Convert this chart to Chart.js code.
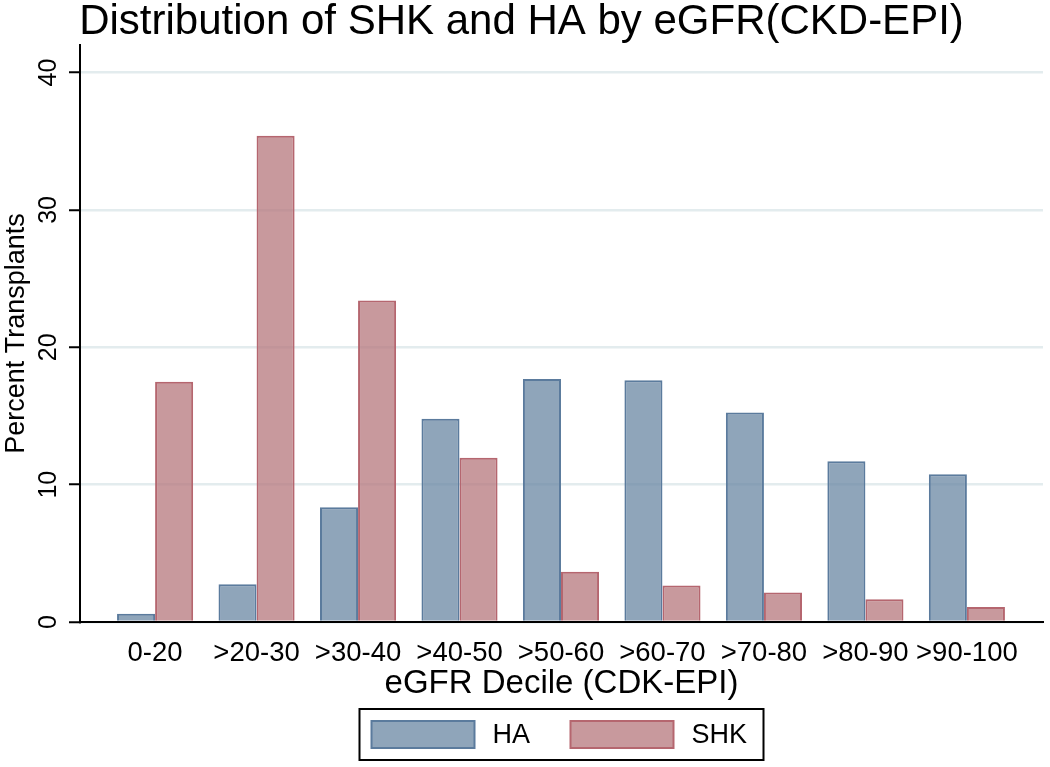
<!DOCTYPE html>
<html>
<head>
<meta charset="utf-8">
<title>Distribution of SHK and HA by eGFR(CKD-EPI)</title>
<script src="https://cdn.jsdelivr.net/npm/chart.js@4.4.1/dist/chart.umd.min.js"></script>
<style>
  html, body { margin: 0; padding: 0; background: #fff; }
  #wrap { width: 1050px; height: 767px; }
</style>
</head>
<body>
<div id="wrap"><canvas id="chart" width="1050" height="767"></canvas></div>
<script>
// ---- data ----
const CHART_TITLE = "Distribution of SHK and HA by eGFR(CKD-EPI)";
const X_TITLE = "eGFR Decile (CDK-EPI)";
const Y_TITLE = "Percent Transplants";
const CATEGORIES = ["0-20", ">20-30", ">30-40", ">40-50", ">50-60", ">60-70", ">70-80", ">80-90", ">90-100"];
const HA_VALUES  = [0.6, 2.75, 8.35, 14.8, 17.7, 17.6, 15.25, 11.7, 10.75];
const SHK_VALUES = [17.5, 35.4, 23.4, 11.95, 3.65, 2.65, 2.15, 1.65, 1.1];
const Y_TICKS = [0, 10, 20, 30, 40];

const FONT = '"Liberation Sans", Arial, Helvetica, sans-serif';

// y tick labels are rotated (read bottom to top)
const rotatedYTicks = {
  id: "rotatedYTicks",
  afterDraw(chart) {
    const { ctx, chartArea, scales: { y } } = chart;
    ctx.save();
    ctx.font = "25px " + FONT;
    ctx.fillStyle = "#000";
    ctx.textAlign = "center";
    ctx.textBaseline = "middle";
    y.ticks.forEach(t => {
      ctx.save();
      ctx.translate(chartArea.left - 31, y.getPixelForValue(t.value));
      ctx.rotate(-Math.PI / 2);
      ctx.fillText(String(t.value), 0, 0);
      ctx.restore();
    });
    ctx.restore();
  }
};

// boxed legend centred under the plot region
const boxedLegend = {
  id: "boxedLegend",
  afterDraw(chart) {
    const { ctx, chartArea } = chart;
    const cx = (chartArea.left + chartArea.right) / 2;
    const boxW = 404, boxH = 51;
    const left = cx - boxW / 2, top = chartArea.bottom + 87;
    ctx.save();
    ctx.strokeStyle = "#000";
    ctx.lineWidth = 2;
    ctx.strokeRect(left, top, boxW, boxH);
    ctx.font = "27px " + FONT;
    ctx.textBaseline = "middle";
    const offs = [12, 211];
    chart.data.datasets.forEach((ds, i) => {
      const sx = left + offs[i], sy = top + 12;
      ctx.fillStyle = "#fff";
      ctx.fillRect(sx, sy, 103, 27);
      ctx.fillStyle = ds.backgroundColor;
      ctx.fillRect(sx, sy, 103, 27);
      ctx.strokeStyle = ds.borderColor;
      ctx.lineWidth = 2;
      ctx.strokeRect(sx, sy, 103, 27);
      ctx.fillStyle = "#000";
      ctx.fillText(ds.label, sx + 121, top + boxH / 2 + 1);
    });
    ctx.restore();
  }
};

new Chart(document.getElementById("chart").getContext("2d"), {
  type: "bar",
  data: {
    datasets: [
      {
        label: "HA",
        data: HA_VALUES.map((v, i) => ({ x: i, y: v })),
        backgroundColor: "rgba(106,135,163,0.75)",
        borderColor: "#5b7b9d",
        borderWidth: 2
      },
      {
        label: "SHK",
        data: SHK_VALUES.map((v, i) => ({ x: i, y: v })),
        backgroundColor: "rgba(182,119,124,0.75)",
        borderColor: "#b5666f",
        borderWidth: 2
      }
    ]
  },
  options: {
    responsive: false,
    animation: false,
    devicePixelRatio: 1,
    categoryPercentage: 0.75,
    barPercentage: 1.0,
    layout: { padding: { left: 0, right: 7, top: 0, bottom: 63 } },
    plugins: {
      legend: { display: false },
      tooltip: { enabled: false },
      title: {
        display: true,
        text: CHART_TITLE,
        color: "#000",
        font: { family: FONT, size: 42, weight: "normal", lineHeight: 1.05 },
        padding: { top: 0, bottom: 1 }
      }
    },
    scales: {
      x: {
        type: "linear",
        min: -0.74,
        max: 8.75,
        offset: false,
        afterBuildTicks: s => { s.ticks = CATEGORIES.map((_, i) => ({ value: i })); },
        ticks: {
          callback: v => CATEGORIES[v] ?? "",
          color: "#000",
          font: { family: FONT, size: 27.5 },
          padding: 7,
          autoSkip: false,
          maxRotation: 0,
          minRotation: 0
        },
        grid: { display: false },
        border: { display: true, color: "#000", width: 2 },
        title: {
          display: true,
          text: X_TITLE,
          color: "#000",
          font: { family: FONT, size: 33 },
          padding: 0
        },
        afterFit: s => { s.height = 82; }
      },
      y: {
        min: 0,
        max: 42,
        afterBuildTicks: s => { s.ticks = Y_TICKS.map(v => ({ value: v })); },
        ticks: { display: false },
        grid: {
          color: "#e3ecee",
          lineWidth: 2.5,
          drawTicks: true,
          tickLength: 11,
          tickColor: "#000",
          tickWidth: 2
        },
        border: { display: true, color: "#000", width: 2 },
        title: {
          display: true,
          text: Y_TITLE,
          color: "#000",
          font: { family: FONT, size: 27 },
          padding: 0
        },
        afterFit: s => { s.width = 80; }
      }
    }
  },
  plugins: [rotatedYTicks, boxedLegend]
});
</script>
</body>
</html>
